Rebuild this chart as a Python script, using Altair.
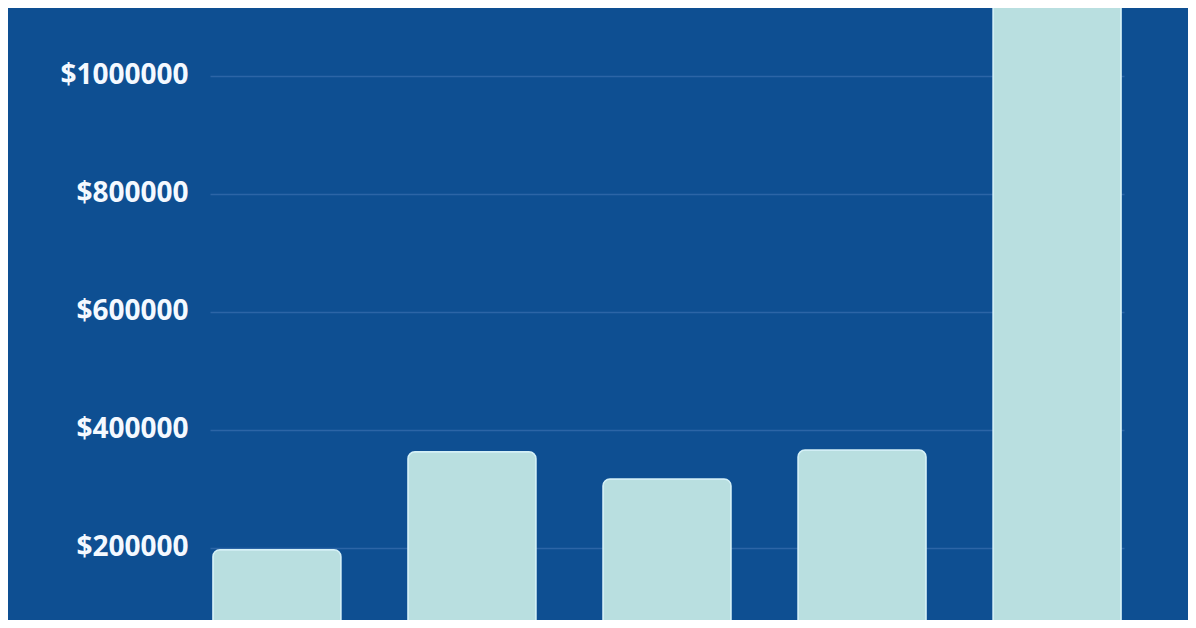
import altair as alt
import pandas as pd

categories = ["A", "B", "C", "D", "E"]
values = [197000, 363000, 317000, 366000, 1200000]
tick_values = [200000, 400000, 600000, 800000, 1000000]

df = pd.DataFrame({"category": categories, "value": values})

bars = alt.Chart(df).mark_bar(
    color="#b9dfe0",
    stroke="#d4f0f6",
    strokeWidth=1.5,
    cornerRadius=7,
).encode(
    x=alt.X("category:N", sort=categories, axis=None,
            scale=alt.Scale(paddingInner=0.3436, paddingOuter=0.015)),
    y=alt.Y("value:Q",
            scale=alt.Scale(domain=[77966, 1115254], nice=False, zero=False),
            axis=alt.Axis(values=tick_values, title=None,
                          labelExpr="'$' + datum.value",
                          labelFont="Open Sans", labelFontWeight="bold",
                          labelFontSize=28, labelColor="#f4f9ff",
                          labelPadding=22, ticks=False, domain=False,
                          grid=True, gridColor="#2c65a6", gridWidth=1.5)),
)

chart = bars.properties(
    width=914,
    height=612,
    background="#0e4f92",
    padding={"left": 202, "right": 64, "top": 0, "bottom": 0},
    autosize=alt.AutoSizeParams(type="none"),
).configure_view(stroke=None)

chart.save("out.html", embed_options={"renderer": "svg", "actions": False})
